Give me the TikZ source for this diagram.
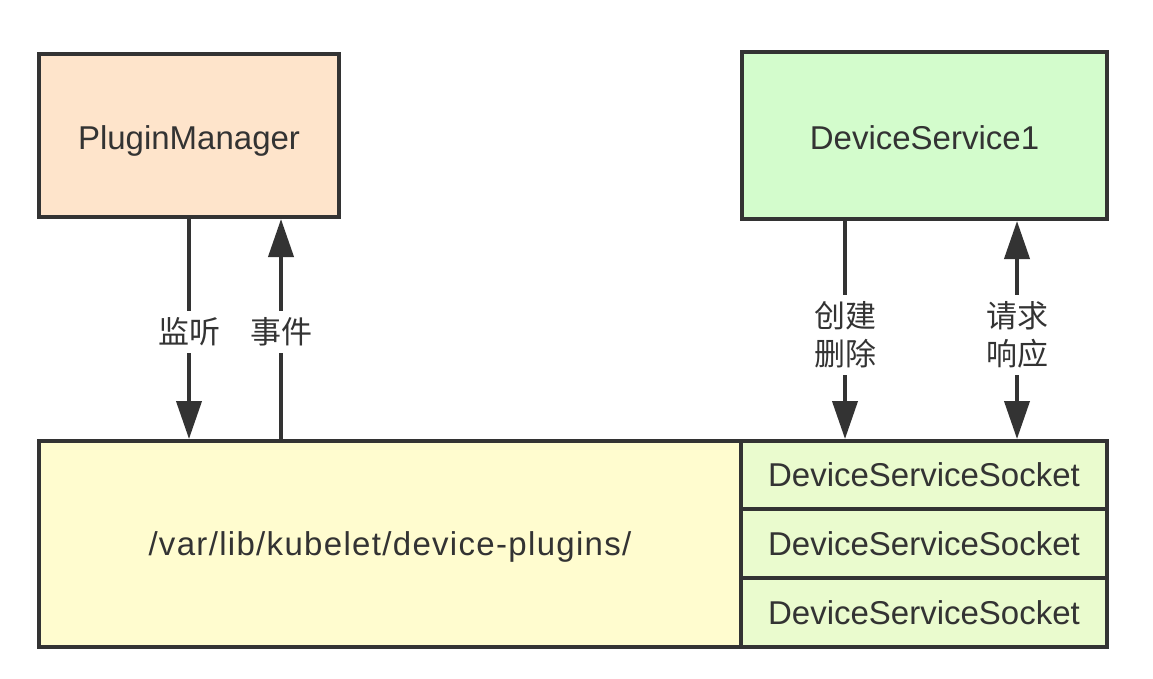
\documentclass[tikz,border=0pt]{standalone}
\usepackage{fontspec}
\setmainfont{Liberation Sans}
\newfontfamily\cjk{Noto Sans CJK SC}
\usetikzlibrary{arrows.meta}
\definecolor{ink}{HTML}{333333}
\definecolor{peach}{HTML}{FEE4CB}
\definecolor{mint}{HTML}{D3FCCC}
\definecolor{cream}{HTML}{FFFCCF}
\definecolor{sockfill}{HTML}{EAFBCE}
\begin{document}
\begin{tikzpicture}[x=1pt,y=-1pt,
  box/.style={draw=ink,line width=4pt,text=ink,inner sep=0pt,
    text height=23.5pt,text depth=0pt,
    font=\fontsize{33}{38}\selectfont},
  arr/.style={draw=ink,line width=4pt,-{Triangle[length=38pt,width=25pt]}},
  darr/.style={draw=ink,line width=4pt,{Triangle[length=38pt,width=25pt]}-{Triangle[length=38pt,width=25pt]}},
  lbl/.style={fill=white,text=ink,inner xsep=3pt,inner ysep=7pt,align=center,
    font=\cjk\fontsize{31}{38}\selectfont}]
\useasboundingbox[fill=white] (0,0) rectangle (1153,678);
\node[box,fill=peach,minimum width=300pt,minimum height=163pt] (pm) at (189,135.5) {\raisebox{-2.5pt}{PluginManager}};
\node[box,fill=mint,minimum width=365pt,minimum height=167pt] (ds) at (924.5,135.5) {\raisebox{-2.5pt}{DeviceService1}};
\node[box,fill=cream,minimum width=702pt,minimum height=206pt] (dir) at (390,544) {\addfontfeature{LetterSpace=4}/var/lib/kubelet/device-plugins/};
\node[box,fill=sockfill,minimum width=366pt,minimum height=68pt] (s1) at (924,475) {DeviceServiceSocket};
\node[box,fill=sockfill,minimum width=366pt,minimum height=69pt] (s2) at (924,543.5) {DeviceServiceSocket};
\node[box,fill=sockfill,minimum width=366pt,minimum height=69pt] (s3) at (924,612.5) {DeviceServiceSocket};
\coordinate (xa) at (189,0);
\coordinate (xb) at (281,0);
\coordinate (xc) at (845,0);
\coordinate (xd) at (1017,0);
\draw[arr] (pm.south -| xa) -- (dir.north -| xa);
\draw[arr] (dir.north -| xb) -- (pm.south -| xb);
\draw[arr] (ds.south -| xc) -- (s1.north -| xc);
\draw[darr] (ds.south -| xd) -- (s1.north -| xd);
\node[lbl] (l1) at (189,332) {监听};
\node[lbl] (l2) at (281,332) {事件};
\node[lbl] (l3) at (845,335) {创建\\删除};
\node[lbl] (l4) at (1017,335) {请求\\响应};
\end{tikzpicture}
\end{document}
